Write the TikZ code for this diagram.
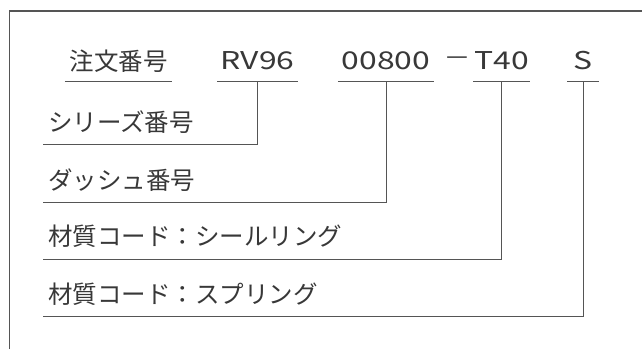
\documentclass[tikz,border=0pt]{standalone}
\usepackage{fontspec}
\setmainfont{Noto Sans CJK JP}
\newfontfamily\latinfont{Noto Sans CJK JP}[FakeStretch=1.3]
\definecolor{txt}{HTML}{383838}
\definecolor{ln}{HTML}{555555}
\begin{document}
\begin{tikzpicture}[x=1pt,y=-1pt,
  every node/.style={inner sep=0pt, text=txt, font=\fontsize{24.5}{24.5}\selectfont},
  hdr/.style={minimum height=40pt},
  lab/.style={anchor=west},
  uline/.style={draw=ln, line width=1pt},
  frm/.style={draw=ln, line width=1.4pt}]
\useasboundingbox (0,0) rectangle (642,349);
\draw[frm] (9.5,349) -- (9.5,11) -- (642,11);
% header
\node[hdr, minimum width=107pt] (h0) at (118.5,61) {注文番号};
\node[hdr, minimum width=80pt] (h1) at (257.5,61) {\latinfont RV96};
\node[hdr, minimum width=96pt] (h2) at (386,61) {\latinfont 00800};
\node (dash) at (457,61) {—};
\node[hdr, minimum width=56pt] (h3) at (501.5,61) {\latinfont T40};
\node[hdr, minimum width=31pt] (h4) at (583,61) {\latinfont S};
\foreach \n in {h0,h1,h2,h3,h4} \draw[uline] (\n.south west) -- (\n.south east);
% labels
\node[lab] (l1) at (48,122.5) {シリーズ番号};
\node[lab] (l2) at (48,180) {ダッシュ番号};
\node[lab] (l3) at (48,236.5) {材質コード：シールリング};
\node[lab] (l4) at (48,294) {材質コード：スプリング};
\coordinate (l1u) at (43,144.5);
\coordinate (l2u) at (43,202);
\coordinate (l3u) at (43,259);
\coordinate (l4u) at (43,316);
\draw[uline] (h1.south) |- (l1u);
\draw[uline] (h2.south) |- (l2u);
\draw[uline] (h3.south) |- (l3u);
\draw[uline] (h4.south) |- (l4u);
\end{tikzpicture}
\end{document}
